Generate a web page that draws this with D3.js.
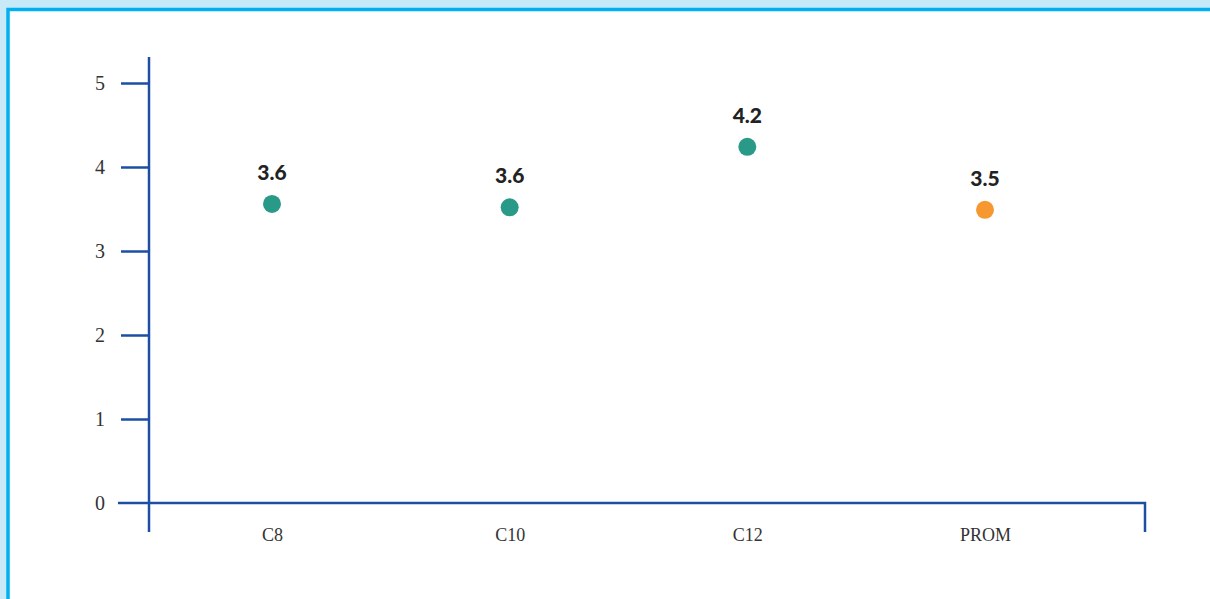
<!DOCTYPE html>
<html><head><meta charset="utf-8">
<script src="https://cdn.jsdelivr.net/npm/d3@7"></script>
<style>
html,body{margin:0;padding:0;background:#c8e9f8;}
svg{display:block;}
</style></head>
<body><svg id="chart" width="1210" height="599"></svg>
<script>
const categories = ["C8", "C10", "C12", "PROM"];
const values = [3.56, 3.52, 4.24, 3.49];
const valueLabels = ["3.6", "3.6", "4.2", "3.5"];
const pointColors = ["#2a9a88", "#2a9a88", "#2a9a88", "#f7972f"];
const yTicks = [0, 1, 2, 3, 4, 5];

const svg = d3.select("#chart");
// card
svg.append("rect").attr("x", 8).attr("y", 9.5).attr("width", 1230).attr("height", 620)
  .attr("fill", "#fff").attr("stroke", "#00b0f0").attr("stroke-width", 3.5);

const axisColor = "#1c4fa3";
const serif = "'Liberation Serif', 'DejaVu Serif', serif";
const xr = d3.scalePoint().domain(categories).range([272, 985]);
const y = d3.scaleLinear().domain([0, 5]).range([503, 83]);

const g = svg.append("g");
// y axis line
g.append("line").attr("x1", 149).attr("x2", 149).attr("y1", 57).attr("y2", 532)
  .attr("stroke", axisColor).attr("stroke-width", 2.5);
// x axis line with right drop
g.append("path").attr("d", `M118,${y(0)}H1145V532`).attr("fill", "none")
  .attr("stroke", axisColor).attr("stroke-width", 2.5);

// y ticks
const yAxis = d3.axisLeft(y).tickValues(yTicks).tickSize(28).tickPadding(14).tickFormat(d3.format("d"));
const ya = g.append("g").attr("transform", "translate(149,0)").call(yAxis);
ya.select(".domain").remove();
ya.selectAll(".tick line").attr("stroke", axisColor).attr("stroke-width", 2.5);
ya.selectAll(".tick").filter(d => d === 0).select("line").remove();
ya.selectAll(".tick text").attr("font-family", serif).attr("font-size", 20)
  .attr("fill", "#333").attr("x", -49).attr("text-anchor", "middle");

// x labels
const xAxis = d3.axisBottom(xr).tickSize(0).tickPadding(25);
const xa = g.append("g").attr("transform", `translate(0,${y(0)})`).call(xAxis);
xa.select(".domain").remove();
xa.selectAll(".tick text").attr("font-family", serif).attr("font-size", 18)
  .attr("fill", "#333");

// points
const data = categories.map((c, i) => ({c, v: values[i], l: valueLabels[i], col: pointColors[i]}));
g.selectAll("circle.pt").data(data).join("circle").attr("class", "pt")
  .attr("cx", d => xr(d.c)).attr("cy", d => y(d.v)).attr("r", 9).attr("fill", d => d.col);
g.selectAll("text.vl").data(data).join("text").attr("class", "vl")
  .attr("x", d => xr(d.c)).attr("y", d => y(d.v) - 24).attr("text-anchor", "middle")
  .attr("font-family", "Lato, 'Open Sans', sans-serif").attr("font-weight", 900)
  .attr("font-size", 21).attr("fill", "#222").text(d => d.l);
</script></body></html>
